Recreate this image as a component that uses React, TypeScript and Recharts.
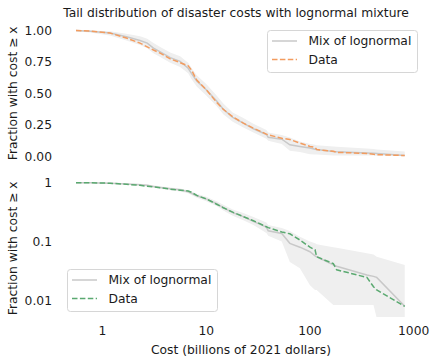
import React from 'react';
import { ComposedChart, Line, Area, XAxis, YAxis, Legend } from 'recharts';

// Cost in billions of 2021 dollars
const costs = [0.555, 0.76, 1.18, 1.7, 2.3, 2.7, 3.1, 3.6, 4.5, 5.6, 6.7, 7.2, 8.1, 10, 12.6, 14.6, 18, 22.8, 28.5, 38, 39.6, 53.5, 64, 80, 100, 112, 116, 168, 181, 354, 410, 440, 820];
// Empirical tail fraction (Data)
const dataFrac = [1.0, 0.995, 0.98, 0.94, 0.9, 0.87, 0.845, 0.82, 0.775, 0.745, 0.72, 0.687, 0.607, 0.53, 0.43, 0.375, 0.315, 0.265, 0.225, 0.178, 0.172, 0.145, 0.135, 0.106, 0.08, 0.072, 0.055, 0.042, 0.033, 0.0245, 0.017, 0.015, 0.0079];
// Mixture of lognormal model
const modelFrac = [1.0, 0.995, 0.98, 0.95, 0.92, 0.9, 0.86, 0.83, 0.785, 0.755, 0.7, 0.66, 0.6, 0.53, 0.44, 0.375, 0.31, 0.265, 0.22, 0.175, 0.152, 0.137, 0.093, 0.08, 0.067, 0.057, 0.055, 0.04, 0.038, 0.027, 0.0255, 0.0245, 0.0079];
// Model band
const bandLow = [0.995, 0.985, 0.96, 0.92, 0.885, 0.86, 0.82, 0.79, 0.745, 0.71, 0.66, 0.615, 0.555, 0.485, 0.4, 0.335, 0.275, 0.23, 0.19, 0.14, 0.125, 0.1, 0.045, 0.035, 0.018, 0.015, 0.015, 0.0083, 0.0083, 0.0083, 0.0083, 0.005, 0.005];
const bandHigh = [1.0, 1.0, 0.995, 0.975, 0.955, 0.935, 0.9, 0.87, 0.825, 0.795, 0.745, 0.705, 0.645, 0.575, 0.485, 0.42, 0.35, 0.305, 0.26, 0.21, 0.19, 0.17, 0.15, 0.12, 0.1, 0.093, 0.09, 0.08, 0.078, 0.063, 0.06, 0.055, 0.04];

const linearTicks = [0, 0.25, 0.5, 0.75, 1];
const logTicks = [0.01, 0.1, 1];
const xTicks = [1, 10, 100, 1000];

const title = 'Tail distribution of disaster costs with lognormal mixture';
const yLabel = 'Fraction with cost ≥ x';
const xLabel = 'Cost (billions of 2021 dollars)';
const modelName = 'Mix of lognormal';
const dataName = 'Data';

const rows = costs.map((c, i) => ({
  cost: c,
  data: dataFrac[i],
  model: modelFrac[i],
  band: [bandLow[i], bandHigh[i]],
}));

const FONT = 'DejaVu Sans, sans-serif';
const FS = 12.3;
const TEXT = '#1a1a1a';
const GREY = '#c8c8c8';
const BAND = '#efefef';
const ORANGE = '#f39c5f';
const GREEN = '#5aa970';
const DASH = '5.5 2.4';

const X_DOMAIN: [number, number] = [0.385, 1230];

function makeLegend(color: string) {
  return () => (
    <svg width={151} height={43} style={{ display: 'block', overflow: 'visible' }}>
      <rect x={0.5} y={0.5} width={150} height={42} rx={3} ry={3} fill="#ffffff" fillOpacity={0.8} stroke="#d6d6d6" strokeWidth={1} />
      <line x1={5} x2={30} y1={11} y2={11} stroke={GREY} strokeWidth={1.5} />
      <text x={41.5} y={11} dy="0.36em" fontFamily={FONT} fontSize={FS} fill={TEXT}>{modelName}</text>
      <line x1={5} x2={30} y1={29.5} y2={29.5} stroke={color} strokeWidth={1.5} strokeDasharray={DASH} />
      <text x={41.5} y={29.5} dy="0.36em" fontFamily={FONT} fontSize={FS} fill={TEXT}>{dataName}</text>
    </svg>
  );
}

const tickStyle = { fontFamily: FONT, fontSize: FS, fill: TEXT };

export default function App() {
  return (
    <div style={{ position: 'absolute', left: 0, top: 0, width: 438, height: 363, background: '#fff', overflow: 'hidden' }}>
      <div style={{ position: 'absolute', left: 0, top: 0 }}>
        <ComposedChart width={438} height={170} data={rows} margin={{ top: 24.2, right: 15, bottom: 7.2, left: 0 }}>
          <XAxis dataKey="cost" type="number" scale="log" domain={X_DOMAIN} allowDataOverflow hide />
          <YAxis
            type="number"
            domain={[-0.05, 1.05]}
            ticks={linearTicks}
            allowDataOverflow
            width={59.5}
            axisLine={false}
            tickLine={false}
            tickSize={0}
            tickMargin={7.5}
            tick={tickStyle}
            tickFormatter={(v: number) => v.toFixed(2)}
            interval={0}
          />
          <Area dataKey="band" type="linear" fill={BAND} fillOpacity={1} stroke="none" isAnimationActive={false} />
          <Line dataKey="model" type="linear" stroke={GREY} strokeWidth={1.5} dot={false} isAnimationActive={false} />
          <Line dataKey="data" type="linear" stroke={ORANGE} strokeWidth={1.5} strokeDasharray={DASH} dot={false} isAnimationActive={false} />
          <Legend
            layout="vertical"
            align="center"
            verticalAlign="middle"
            content={makeLegend(ORANGE)}
            wrapperStyle={{ position: 'absolute', left: 266.5, top: 30, width: 151, height: 43 }}
          />
        </ComposedChart>
      </div>
      <div style={{ position: 'absolute', left: 0, top: 165 }}>
        <ComposedChart width={438} height={198} data={rows} margin={{ top: 10, right: 15, bottom: 6, left: 0 }}>
          <XAxis
            dataKey="cost"
            type="number"
            scale="log"
            domain={X_DOMAIN}
            allowDataOverflow
            ticks={xTicks}
            interval={0}
            height={40}
            axisLine={false}
            tickLine={false}
            tickSize={0}
            tickMargin={9}
            tick={tickStyle}
            tickFormatter={(v: number) => String(v)}
          />
          <YAxis
            type="number"
            scale="log"
            domain={[0.0052, 1.35]}
            ticks={logTicks}
            allowDataOverflow
            width={59.5}
            axisLine={false}
            tickLine={false}
            tickSize={0}
            tickMargin={7.5}
            tick={tickStyle}
            tickFormatter={(v: number) => String(v)}
            interval={0}
          />
          <Area dataKey="band" type="linear" fill={BAND} fillOpacity={1} stroke="none" isAnimationActive={false} />
          <Line dataKey="model" type="linear" stroke={GREY} strokeWidth={1.5} dot={false} isAnimationActive={false} />
          <Line dataKey="data" type="linear" stroke={GREEN} strokeWidth={1.5} strokeDasharray={DASH} dot={false} isAnimationActive={false} />
          <Legend
            layout="vertical"
            align="center"
            verticalAlign="middle"
            content={makeLegend(GREEN)}
            wrapperStyle={{ position: 'absolute', left: 66.5, top: 103.5, width: 151, height: 43 }}
          />
        </ComposedChart>
      </div>
      <svg width={438} height={363} style={{ position: 'absolute', left: 0, top: 0, pointerEvents: 'none' }}>
        <text x={236} y={17} textAnchor="middle" fontFamily={FONT} fontSize={FS} fill={TEXT}>{title}</text>
        <text x={17} y={93.3} textAnchor="middle" transform="rotate(-90 17 93.3)" fontFamily={FONT} fontSize={FS} fill={TEXT}>{yLabel}</text>
        <text x={17} y={248.3} textAnchor="middle" transform="rotate(-90 17 248.3)" fontFamily={FONT} fontSize={FS} fill={TEXT}>{yLabel}</text>
        <text x={241} y={354} textAnchor="middle" fontFamily={FONT} fontSize={FS} fill={TEXT}>{xLabel}</text>
      </svg>
    </div>
  );
}
